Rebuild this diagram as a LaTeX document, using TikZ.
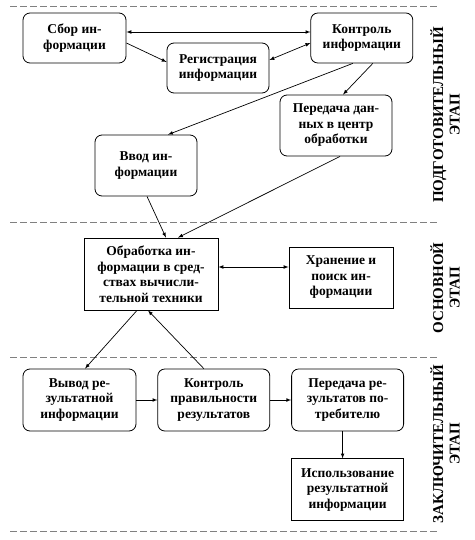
\documentclass[tikz,border=0pt]{standalone}
\usepackage{fontspec}
\setmainfont{Liberation Serif}
\usetikzlibrary{arrows,positioning}
\tikzstyle{block} = [draw, rectangle, line width=0.8pt, align=center,
    font=\fontsize{13.5}{15.5}\selectfont\bfseries, inner sep=2pt]
\tikzstyle{rblock} = [block, rounded corners=7pt]
\tikzstyle{connector} = [-latex, line width=0.7pt]
\tikzstyle{dconnector} = [latex-latex, line width=0.7pt]
\tikzstyle{stage} = [rotate=90, align=center,
    font=\fontsize{15}{16.5}\selectfont\bfseries]
\tikzstyle{divider} = [gray, line width=0.8pt, dash pattern=on 7pt off 3pt]

\begin{document}
\begin{tikzpicture}[x=1pt,y=-1pt]
		\useasboundingbox (0,0) rectangle (474,540);
		% dividers between the stages
		\foreach \yy in {6,222,357,531}
			\draw[divider] (10,\yy) -- (440,\yy);
		
		\node[rblock, minimum width=103, minimum height=50] at (74.5,38) (sbor) {Сбор ин-\\формации};
		\node[rblock, minimum width=102, minimum height=50, right=184pt of sbor] (kontr) {Контроль\\информации};
		\node[rblock, minimum width=102, minimum height=50] at (218,68) (reg) {Регистрация\\информации};
		\node[rblock, minimum width=112, minimum height=61] at (336,125.5) (pered) {Передача дан-\\ных в центр\\обработки};
		\node[rblock, minimum width=102, minimum height=61] at (146,165.5) (vvod) {Ввод ин-\\формации};
		
		\node[block, minimum width=134, minimum height=72] at (151,274) (obr) {Обработка ин-\\формации в сред-\\ствах вычисли-\\тельной техники};
		\node[block, minimum width=104, minimum height=61] at (341,277.5) (hran) {Хранение и\\поиск ин-\\формации};
		
		\node[rblock, minimum width=113, minimum height=62] at (79.5,400) (vyvod) {Вывод ре-\\зультатной\\информации};
		\node[rblock, minimum width=112, minimum height=62, right=21pt of vyvod] (kprav) {Контроль\\правильности\\результатов};
		\node[rblock, minimum width=112, minimum height=62, right=21pt of kprav] (peredrez) {Передача ре-\\зультатов по-\\требителю};
		\node[block, minimum width=112, minimum height=62, below=27pt of peredrez] (isp) {Использование\\результатной\\информации};
		
		\node[stage] at (445,115) (st1) {ПОДГОТОВИТЕЛЬНЫЙ\\ЭТАП};
		\node[stage] at (445,288) (st2) {ОСНОВНОЙ\\ЭТАП};
		\node[stage] at (445,444) (st3) {ЗАКЛЮЧИТЕЛЬНЫЙ\\ЭТАП};
		
		\draw[dconnector] ([yshift=6pt]sbor.east) to ([yshift=6pt]kontr.west);
		\draw[connector] ([yshift=-5pt]sbor.east) to ([yshift=6pt]reg.west);
		\draw[dconnector] ([yshift=-5pt]kontr.west) to ([yshift=8pt]reg.east);
		\draw[connector] ([xshift=11pt]kontr.south) to ([xshift=7pt]pered.north);
		\draw[connector] ([xshift=-9pt]kontr.south) to ([xshift=22pt]vvod.north);
		\draw[connector] ([xshift=1pt]vvod.south) to ([xshift=15pt]obr.north);
		\draw[connector] ([xshift=4pt]pered.south) to ([xshift=27pt]obr.north);
		\draw[dconnector] ([yshift=7pt]obr.east) to ([yshift=10.5pt]hran.west);
		\draw[connector] ([xshift=-14pt]obr.south) to ([xshift=5.5pt]vyvod.north);
		\draw[connector] ([xshift=-10pt]kprav.north) to ([xshift=-3pt]obr.south);
		\draw[connector] (vyvod) to (kprav);
		\draw[connector] (kprav) to (peredrez);
		\draw[connector] ([xshift=-5pt]peredrez.south) to ([xshift=-5pt]isp.north);
	\end{tikzpicture}
\end{document}
